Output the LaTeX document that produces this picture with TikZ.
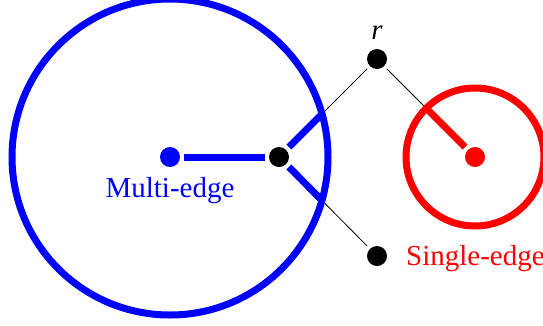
\documentclass[tikz,border=0pt]{standalone}
\usepackage{fontspec}
\setmainfont{Liberation Serif}
\begin{document}
\begin{tikzpicture}[x=1pt,y=-1pt,
  dot/.style={circle,fill=#1,minimum size=20pt,inner sep=0pt,outer sep=4pt},
  thinedge/.style={draw=black,line width=0.8pt},
  thickedge/.style={draw=#1,line width=7pt},
  ring/.style={draw=#1,line width=7pt},
  lbl/.style={font=\fontsize{29}{34}\selectfont,text=#1,inner sep=0pt}]
\useasboundingbox (0,0) rectangle (543,325);
\node[dot=blue] (b) at (170,157) {};
\node[dot=black] (n) at (279,157) {};
\node[dot=black] (r) at (377,59) {};
\node[dot=black] (s) at (377,256) {};
\node[dot=red] (c) at (475,157) {};
\coordinate (bc) at (170,157);
\coordinate (rc) at (475,157);
% thin edges
\draw[thinedge] (n) -- (r);
\draw[thinedge] (n) -- (s);
\draw[thinedge] (r) -- (c);
% thick parts inside circles
\begin{scope}
  \clip (bc) circle (158);
  \draw[thickedge=blue] (n) -- (r);
  \draw[thickedge=blue] (n) -- (s);
\end{scope}
\draw[thickedge=blue] (b) -- (n);
\begin{scope}
  \clip (rc) circle (69);
  \draw[thickedge=red] (c) -- (r);
\end{scope}
% rings
\draw[ring=blue] (bc) circle (158);
\draw[ring=red] (rc) circle (69);
% labels
\node[lbl=black,anchor=base] (rl) at (377,39) {\textit{r}};
\node[lbl=blue,anchor=base] (ml) at (170,197) {Multi-edge};
\node[lbl=red,anchor=base west] (sl) at (406,265) {Single-edge};
\end{tikzpicture}
\end{document}
